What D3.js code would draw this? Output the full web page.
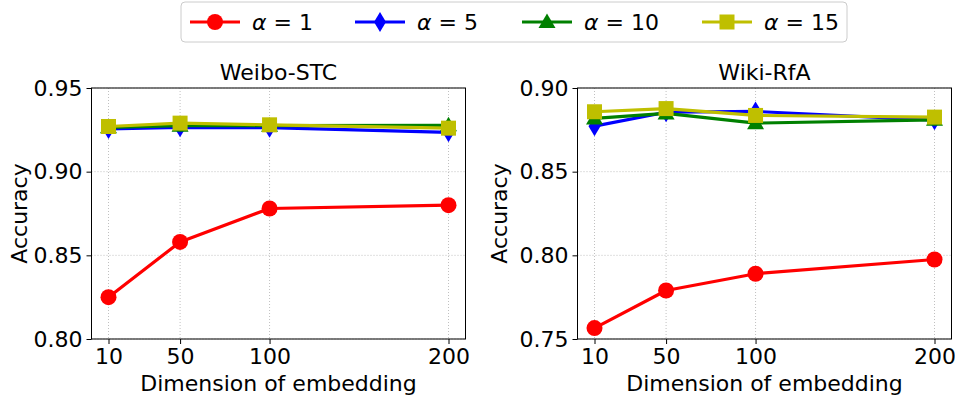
<!DOCTYPE html>
<html>
<head>
<meta charset="utf-8">
<script src="https://cdn.jsdelivr.net/npm/d3@7"></script>
<style>
  html, body { margin: 0; padding: 0; background: #fff; }
  svg { display: block; font-family: "DejaVu Sans", sans-serif; }
</style>
</head>
<body>
<svg id="chart" width="955" height="396"></svg>
<script>
// Embedding dimensions on the x axis
const dims = [10, 50, 100, 200];

// Weibo-STC accuracy per alpha
const weiboA1  = [0.825, 0.858, 0.878, 0.880];
const weiboA5  = [0.9255, 0.9265, 0.9263, 0.9235];
const weiboA10 = [0.9265, 0.9275, 0.9275, 0.9277];
const weiboA15 = [0.927, 0.929, 0.928, 0.926];

// Wiki-RfA accuracy per alpha
const wikiA1  = [0.7565, 0.7790, 0.7890, 0.7975];
const wikiA5  = [0.8772, 0.8855, 0.8860, 0.8808];
const wikiA10 = [0.8818, 0.8848, 0.8790, 0.8810];
const wikiA15 = [0.8858, 0.8877, 0.8836, 0.8826];

const alphas = ["1", "5", "10", "15"];
const colors = ["#ff0000", "#0000ff", "#008000", "#bfbf00"];
const symbols = ["circle", "diamond", "triangle", "square"];

const xTicks = [10, 50, 100, 200];
const weiboYTicks = [0.80, 0.85, 0.90, 0.95];
const wikiYTicks = [0.75, 0.80, 0.85, 0.90];

const panels = [
  { title: "Weibo-STC", series: [weiboA1, weiboA5, weiboA10, weiboA15],
    yDomain: [0.80, 0.95], yTicks: weiboYTicks, left: 91.5, labelX: 27 },
  { title: "Wiki-RfA", series: [wikiA1, wikiA5, wikiA10, wikiA15],
    yDomain: [0.75, 0.90], yTicks: wikiYTicks, left: 577.5, labelX: 507 }
];

const svg = d3.select("#chart");
const plotW = 374, plotTop = 88, plotH = 251;
const FS = 22;

function marker(g, sym, color, x, y) {
  if (sym === "circle") {
    g.append("circle").attr("cx", x).attr("cy", y).attr("r", 8).attr("fill", color);
  } else if (sym === "square") {
    g.append("rect").attr("x", x - 7.5).attr("y", y - 7.5)
      .attr("width", 15).attr("height", 15).attr("fill", color);
  } else if (sym === "triangle") {
    g.append("path").attr("d", `M${x},${y - 8.5}L${x + 8.5},${y + 6}L${x - 8.5},${y + 6}Z`)
      .attr("fill", color);
  } else if (sym === "diamond") {
    g.append("path").attr("d", `M${x},${y - 10}L${x + 6},${y}L${x},${y + 10}L${x - 6},${y}Z`)
      .attr("fill", color);
  }
}

panels.forEach(p => {
  const x = d3.scaleLinear().domain([0.5, 209.5]).range([p.left, p.left + plotW]);
  const y = d3.scaleLinear().domain(p.yDomain).range([plotTop + plotH, plotTop]);
  const g = svg.append("g");

  // dotted grid
  const grid = g.append("g").attr("stroke", "#b0b0b0").attr("stroke-width", 0.8)
    .attr("stroke-dasharray", "1,2");
  xTicks.forEach(t => grid.append("line")
    .attr("x1", x(t)).attr("x2", x(t)).attr("y1", plotTop).attr("y2", plotTop + plotH));
  p.yTicks.forEach(t => grid.append("line")
    .attr("x1", p.left).attr("x2", p.left + plotW).attr("y1", y(t)).attr("y2", y(t)));

  // lines and markers, alpha=1 first so alpha=15 sits on top
  const line = d3.line().x((d, i) => x(dims[i])).y(d => y(d));
  p.series.forEach((vals, k) => {
    const sg = g.append("g");
    sg.append("path").datum(vals).attr("d", line).attr("fill", "none")
      .attr("stroke", colors[k]).attr("stroke-width", 3.2).attr("stroke-linejoin", "round");
    vals.forEach((v, i) => marker(sg, symbols[k], colors[k], x(dims[i]), y(v)));
  });

  // frame
  g.append("rect").attr("x", p.left).attr("y", plotTop).attr("width", plotW).attr("height", plotH)
    .attr("fill", "none").attr("stroke", "#000").attr("stroke-width", 1);

  // axes
  const xAxis = d3.axisBottom(x).tickValues(xTicks).tickSize(5).tickPadding(4)
    .tickFormat(d3.format("d"));
  const gx = g.append("g").attr("transform", `translate(0,${plotTop + plotH})`).call(xAxis);
  const yAxis = d3.axisLeft(y).tickValues(p.yTicks).tickSize(5).tickPadding(4)
    .tickFormat(d3.format(".2f"));
  const gy = g.append("g").attr("transform", `translate(${p.left},0)`).call(yAxis);
  [gx, gy].forEach(a => {
    a.select(".domain").remove();
    a.selectAll("text").attr("font-size", FS).attr("font-family", "DejaVu Sans").attr("fill", "#000");
    a.selectAll("line").attr("stroke", "#000");
  });

  // titles
  g.append("text").attr("x", p.left + plotW / 2).attr("y", plotTop - 8).attr("text-anchor", "middle")
    .attr("font-size", FS).text(p.title);
  g.append("text").attr("x", p.left + plotW / 2).attr("y", plotTop + plotH + 52).attr("text-anchor", "middle")
    .attr("font-size", FS).text("Dimension of embedding");
  g.append("text").attr("transform", `translate(${p.labelX},${plotTop + plotH / 2}) rotate(-90)`)
    .attr("text-anchor", "middle").attr("font-size", FS).text("Accuracy");
});

// legend
const leg = svg.append("g");
leg.append("rect").attr("x", 181).attr("y", 2).attr("width", 666).attr("height", 40)
  .attr("rx", 4).attr("fill", "#fff").attr("stroke", "#cccccc").attr("stroke-width", 1);
const legX = [190, 355, 522, 702];
alphas.forEach((a, k) => {
  const lx = legX[k], ly = 22;
  leg.append("line").attr("x1", lx).attr("x2", lx + 50).attr("y1", ly).attr("y2", ly)
    .attr("stroke", colors[k]).attr("stroke-width", 3.2);
  marker(leg, symbols[k], colors[k], lx + 25, ly);
  const t = leg.append("text").attr("x", lx + 62).attr("y", ly + 8).attr("font-size", FS);
  t.append("tspan").attr("font-style", "italic").text("α");
  t.append("tspan").text(" = " + a);
});
</script>
</body>
</html>
